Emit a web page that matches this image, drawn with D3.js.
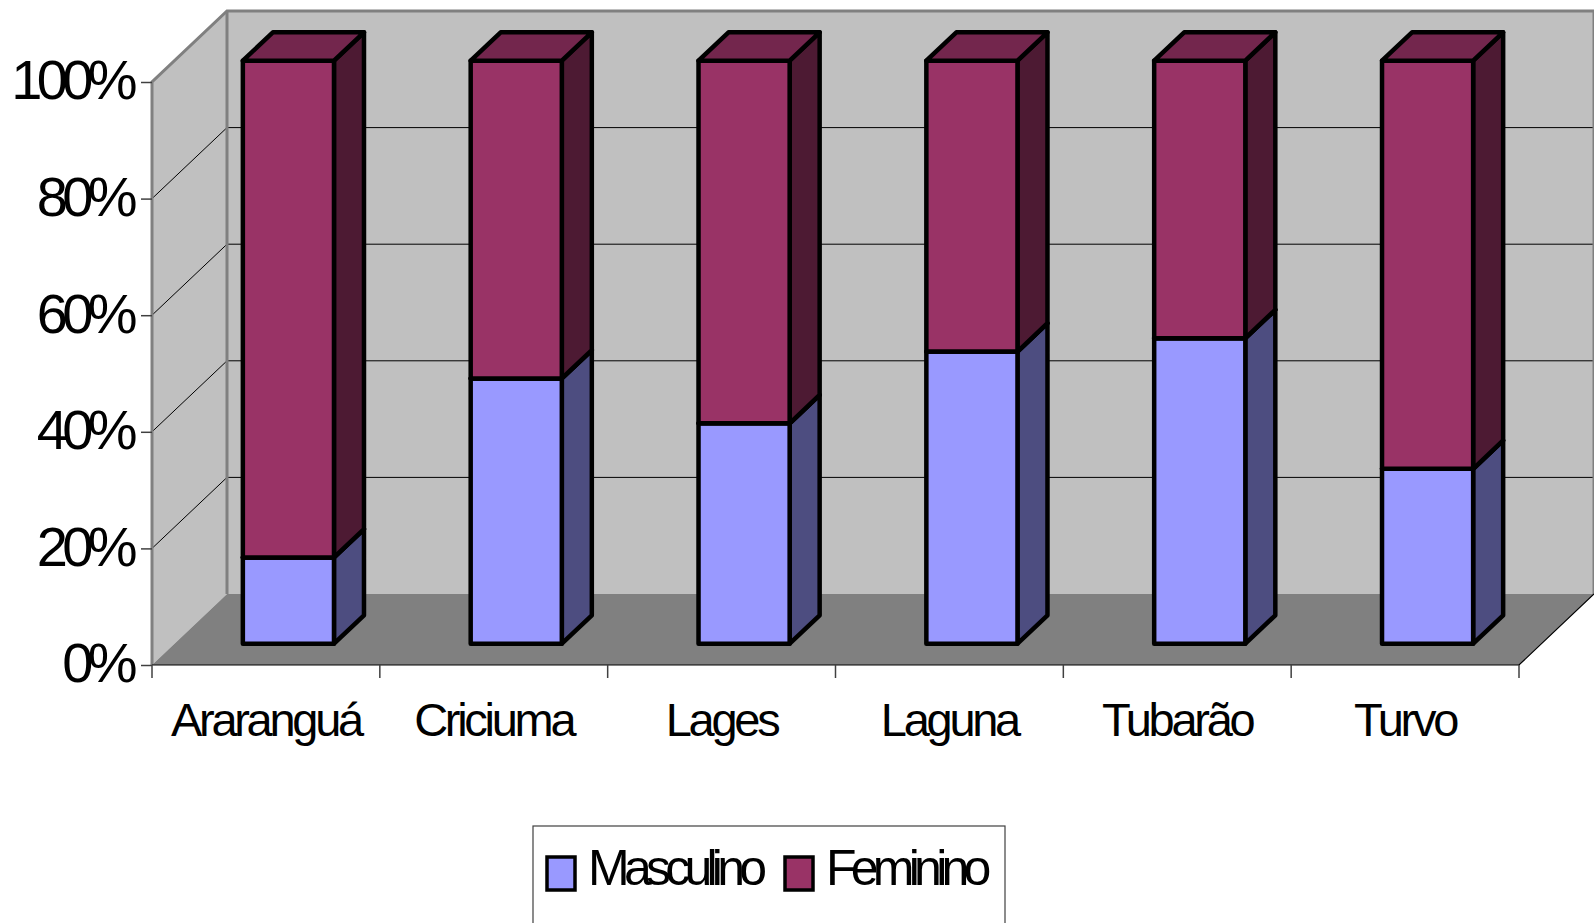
<!DOCTYPE html>
<html>
<head>
<meta charset="utf-8">
<script src="https://cdn.jsdelivr.net/npm/d3@7/dist/d3.min.js"></script>
<style>
  body { margin: 0; background: #fff; }
  text { font-family: "Liberation Sans", Arial, sans-serif; fill: #000; }
</style>
</head>
<body>
<svg id="chart" width="1594" height="923"></svg>
<script>
const categories = ['Araranguá', 'Criciuma', 'Lages', 'Laguna', 'Tubarão', 'Turvo'];
const seriesNames = ['Masculino', 'Feminino'];
const masculino = [0.148, 0.455, 0.378, 0.501, 0.524, 0.300];
const feminino = [0.852, 0.545, 0.622, 0.499, 0.476, 0.700];
const yTicks = [0, 0.2, 0.4, 0.6, 0.8, 1];

const colours = {
  Masculino: { front: '#9999ff', side: '#4d4d80', top: '#7373bf' },
  Feminino: { front: '#993366', side: '#4d1a33', top: '#73264d' },
};

const svg = d3.select('#chart');
const depthX = 75, depthY = 71;
const barZ0 = 0.3, barZ1 = 0.7;

const x = d3.scaleBand().domain(categories).range([152, 1519]);
const xBar = d3.scaleBand().domain(categories).range([152, 1519])
  .paddingInner(0.6).paddingOuter(0.3);
const y = d3.scaleLinear().domain([0, 1]).range([665, 82]);

function proj(px, v, d) {
  return [px + d * depthX, y(v) - d * depthY];
}
const line = pts => 'M' + pts.map(p => p.join(',')).join('L') + 'Z';

const [x0, x1] = x.range();

// walls and floor
svg.append('path')
  .attr('d', line([proj(x0, 1, 1), proj(x1, 1, 1), proj(x1, 0, 1), proj(x0, 0, 1)]))
  .attr('fill', '#c0c0c0');
svg.append('path')
  .attr('d', line([proj(x0, 0, 0), proj(x0, 1, 0), proj(x0, 1, 1), proj(x0, 0, 1)]))
  .attr('fill', '#c0c0c0');
svg.append('path')
  .attr('d', line([proj(x0, 0, 0), proj(x0, 0, 1), proj(x1, 0, 1), proj(x1, 0, 0)]))
  .attr('fill', '#808080');

// gridlines
const grid = svg.append('g').attr('stroke', '#000').attr('stroke-width', 1).attr('fill', 'none');
yTicks.filter(t => t > 0 && t < 1).forEach(t => {
  grid.append('path').attr('d', 'M' + proj(x0, t, 0) + 'L' + proj(x0, t, 1) + 'L' + proj(x1, t, 1));
});

// wall borders
svg.append('path')
  .attr('d', 'M' + proj(x0, 0, 0) + 'L' + proj(x0, 1, 0) + 'L' + proj(x0, 1, 1) + 'L' + proj(x1, 1, 1) +
    'L' + proj(x1, 0, 1))
  .attr('fill', 'none').attr('stroke', '#808080').attr('stroke-width', 3);
svg.append('path')
  .attr('d', 'M' + proj(x0, 1, 1) + 'L' + proj(x0, 0, 1))
  .attr('fill', 'none').attr('stroke', '#808080').attr('stroke-width', 3);
svg.append('path')
  .attr('d', 'M' + proj(x0, 0, 0) + 'L' + proj(x1, 0, 0) + 'L' + proj(x1, 0, 1))
  .attr('fill', 'none').attr('stroke', '#000').attr('stroke-width', 1.2);

// y axis
const yAxis = svg.append('g')
  .attr('transform', `translate(${x0},0)`)
  .call(d3.axisLeft(y).tickValues(yTicks).tickFormat(d3.format('.0%')).tickSize(11).tickPadding(9));
yAxis.select('.domain').remove();
yAxis.selectAll('line').attr('stroke', '#404040').attr('stroke-width', 1.5);
yAxis.selectAll('text')
  .attr('font-size', 56).attr('letter-spacing', '-0.1em')
  .attr('font-family', '"Liberation Sans", Arial, sans-serif').attr('dy', '0.3em');

// x axis ticks at category boundaries
const bounds = categories.map(c => x(c)).concat([x1]);
svg.append('g').selectAll('line').data(bounds).enter().append('line')
  .attr('x1', d => d).attr('x2', d => d)
  .attr('y1', y(0)).attr('y2', y(0) + 13)
  .attr('stroke', '#404040').attr('stroke-width', 1.5);

svg.append('g').selectAll('text').data(categories).enter().append('text')
  .attr('x', d => x(d) + x.bandwidth() / 2)
  .attr('y', 736)
  .attr('text-anchor', 'middle')
  .attr('font-size', 47)
  .attr('letter-spacing', '-0.07em')
  .text(d => d);

// bars
const rows = categories.map((c, i) => ({ cat: c, Masculino: masculino[i], Feminino: feminino[i] }));
const stacked = d3.stack().keys(seriesNames)(rows);

const bars = svg.append('g')
  .attr('stroke', '#000').attr('stroke-width', 4.5).attr('stroke-linejoin', 'round');

categories.forEach((cat, i) => {
  const bx = xBar(cat), bw = xBar.bandwidth();
  stacked.forEach(series => {
    const [v0, v1] = series[i];
    const col = colours[series.key];
    bars.append('path')
      .attr('d', line([proj(bx + bw, v0, barZ0), proj(bx + bw, v0, barZ1), proj(bx + bw, v1, barZ1), proj(bx + bw, v1, barZ0)]))
      .attr('fill', col.side);
    bars.append('path')
      .attr('d', line([proj(bx, v0, barZ0), proj(bx + bw, v0, barZ0), proj(bx + bw, v1, barZ0), proj(bx, v1, barZ0)]))
      .attr('fill', col.front);
    bars.append('path')
      .attr('d', line([proj(bx, v1, barZ0), proj(bx + bw, v1, barZ0), proj(bx + bw, v1, barZ1), proj(bx, v1, barZ1)]))
      .attr('fill', col.top);
  });
});

// legend
const legend = svg.append('g');
legend.append('rect')
  .attr('x', 533).attr('y', 826).attr('width', 472).attr('height', 150)
  .attr('fill', '#fff').attr('stroke', '#404040').attr('stroke-width', 1.2);
const legendX = [547, 785];
seriesNames.forEach((name, i) => {
  legend.append('rect')
    .attr('x', legendX[i]).attr('y', 857).attr('width', 28).attr('height', 33)
    .attr('fill', colours[name].front).attr('stroke', '#000').attr('stroke-width', 3.5);
  legend.append('text')
    .attr('x', legendX[i] + 41).attr('y', 885)
    .attr('font-size', 50).attr('letter-spacing', '-0.115em')
    .text(name);
});
</script>
</body>
</html>
